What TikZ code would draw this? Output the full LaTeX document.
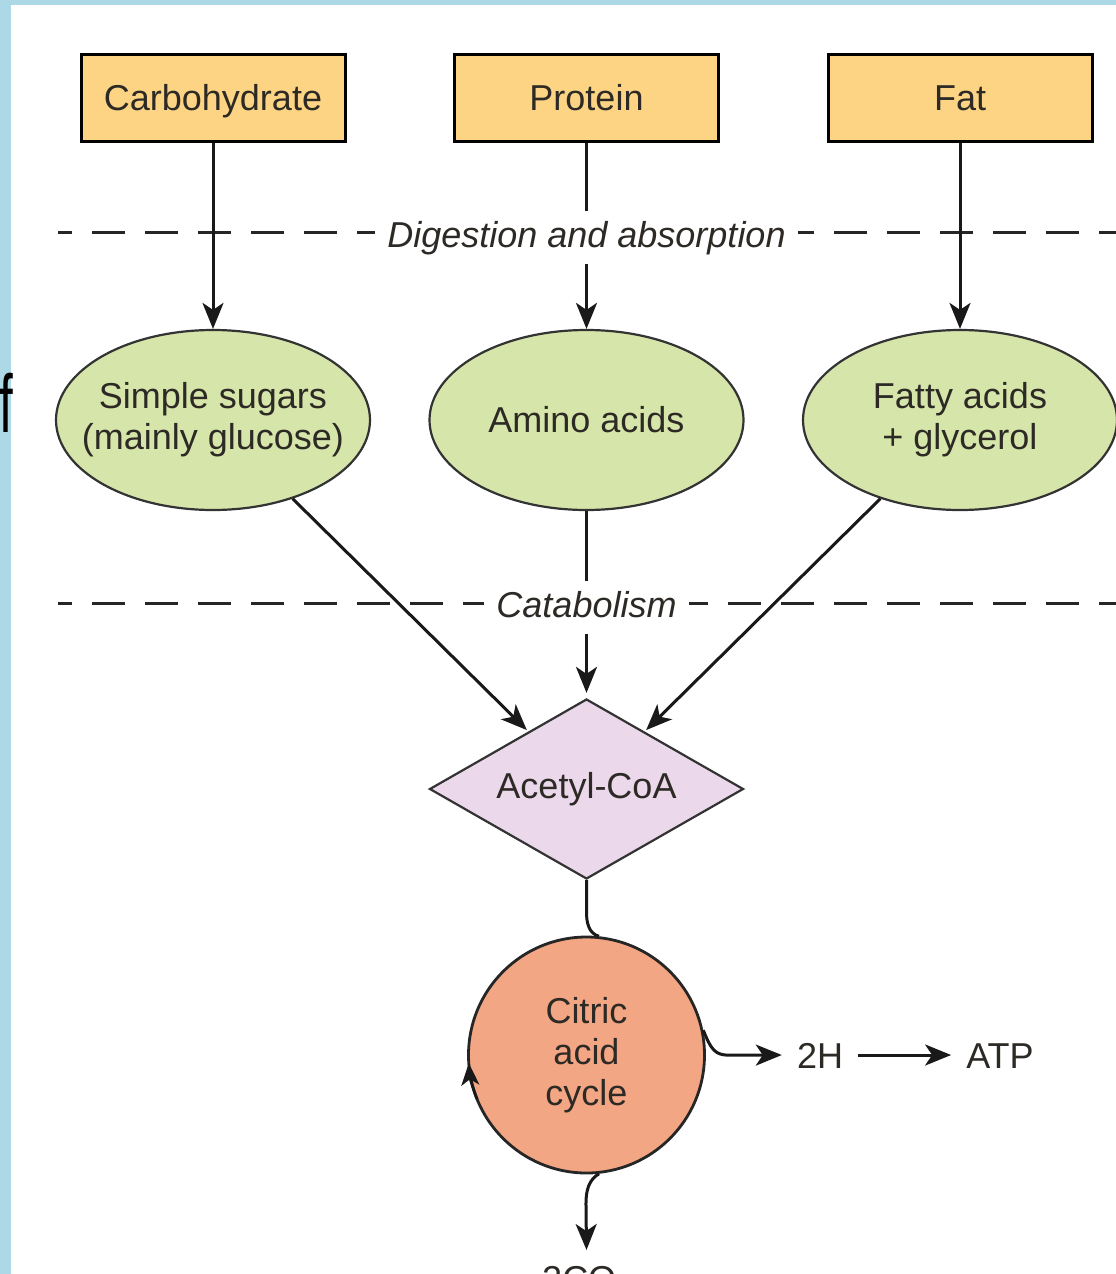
\documentclass[tikz,border=0pt]{standalone}
\usepackage{fontspec}
\setmainfont{Liberation Sans}
\usetikzlibrary{shapes.geometric,arrows.meta}

\definecolor{frameblue}{RGB}{173,216,230}
\definecolor{foodfill}{RGB}{252,212,132}
\definecolor{unitfill}{RGB}{214,229,170}
\definecolor{acoafill}{RGB}{235,216,235}
\definecolor{cyclefill}{RGB}{243,166,132}
\definecolor{inkdark}{RGB}{45,42,38}

\begin{document}
\begin{tikzpicture}[x=1pt,y=1pt,
  lbl/.style={font=\fontsize{36}{41}\selectfont, text=inkdark},
  food/.style={lbl, rectangle, draw=black, line width=3pt, fill=foodfill,
    minimum width=264pt, minimum height=87pt, inner sep=0pt,
    text height=26pt, text depth=0pt},
  unit/.style={lbl, ellipse, draw=black!80, line width=2.2pt, fill=unitfill,
    minimum width=314pt, minimum height=180pt, inner xsep=-25pt, inner ysep=0pt,
    align=center},
  hub/.style={lbl, diamond, draw=black!80, line width=2.2pt, fill=acoafill,
    minimum width=314pt, minimum height=180pt, shape aspect=1.74, inner sep=0pt},
  cycle/.style={lbl, circle, draw=black!85, line width=2.8pt, fill=cyclefill,
    minimum size=236pt, inner sep=0pt, align=center},
  product/.style={lbl, inner ysep=0pt, inner xsep=15pt, text height=26pt, text depth=0pt},
  stage/.style={font=\itshape\fontsize{36}{41}\selectfont, text=inkdark, fill=white,
    inner xsep=12pt, inner ysep=0pt, text height=36pt, text depth=17pt},
  flow/.style={line width=3pt, draw=black!90,
    -{Stealth[length=26pt,width=21pt,inset=7pt]}},
  link/.style={line width=3pt, draw=black!90},
  divider/.style={line width=3pt, draw=black!85,
    dash pattern=on 33pt off 20pt, dash phase=19pt}
]
\useasboundingbox (0,0) rectangle (1116,-1274);

% page background with the slide frame
\fill[white] (0,0) rectangle (1116,-1274);
\fill[frameblue] (0,0) rectangle (1116,-5);
\fill[frameblue] (0,0) rectangle (11,-1274);
\node[anchor=base west, inner sep=0pt, text=black, font=\fontsize{82}{82}\selectfont]
  (fragment) at (-1,-432) {\scalebox{0.6}[1]{f}};

% stage separators
\coordinate (d1w) at (58,-232);
\coordinate (d1e) at (1120,-232);
\coordinate (d2w) at (58,-603);
\coordinate (d2e) at (1120,-603);
\draw[divider] (d1w) -- (d1e);
\draw[divider] (d2w) -- (d2e);

% foodstuffs
\node[food] (carb) at (213,-97.5) {Carbohydrate};
\node[food] (prot) at (586.5,-97.5) {Protein};
\node[food] (fat)  at (960,-97.5) {Fat};

% absorbed units
\node[unit] (ss) at (213,-420) {Simple sugars\\(mainly glucose)};
\node[unit] (aa) at (586.5,-420) {Amino acids};
\node[unit] (fa) at (960,-420) {Fatty acids\\+ glycerol};

% common intermediate and cycle
\node[hub] (acoa) at (586.5,-789) {Acetyl-CoA};
\node[cycle] (cac) at (586.5,-1055) {Citric\\acid\\cycle};

% products
\node[product] (h2)  at (820,-1055) {2H};
\node[product] (atp) at (1000,-1055) {ATP};
\node[lbl, anchor=north, inner xsep=0pt, inner ysep=15pt, text height=26pt, text depth=8pt]
  (co2) at (586.5,-1250) {2CO\textsubscript{2}};

% digestion
\draw[flow] (carb) -- (ss);
\draw[flow] (prot) -- (aa);
\draw[flow] (fat) -- (fa);

% catabolism
\draw[flow, shorten >=2pt] (ss) -- (acoa);
\draw[flow, shorten >=5pt] (aa) -- (acoa);
\draw[flow, shorten >=2pt] (fa) -- (acoa);

% into and out of the cycle
\draw[link] (acoa.south) -- ++(0,-32) to[out=-90,in=165] (cac.84);
\draw[flow] (cac.12) .. controls +(8,-20) and +(-14,0) .. ++(26,-25) -- (h2.west);
\draw[flow] (h2.east) -- (atp.west);
\draw[flow] (cac.-84) .. controls +(-10,-6) and +(0,14) .. ++(-13,-30) -- (co2.north);
\draw[line width=2.8pt, draw=black!90, -{Stealth[length=22pt,width=18pt,inset=6pt]}]
  ([shift={(202:118pt)}]cac.center) arc[start angle=202,end angle=184,radius=118pt];

% stage labels sit on top of the separators and arrows
\node[stage, anchor=base] (dig) at (586.5,-247) {Digestion and absorption};
\node[stage, anchor=base] (cat) at (586.5,-617) {Catabolism};
\end{tikzpicture}
\end{document}
